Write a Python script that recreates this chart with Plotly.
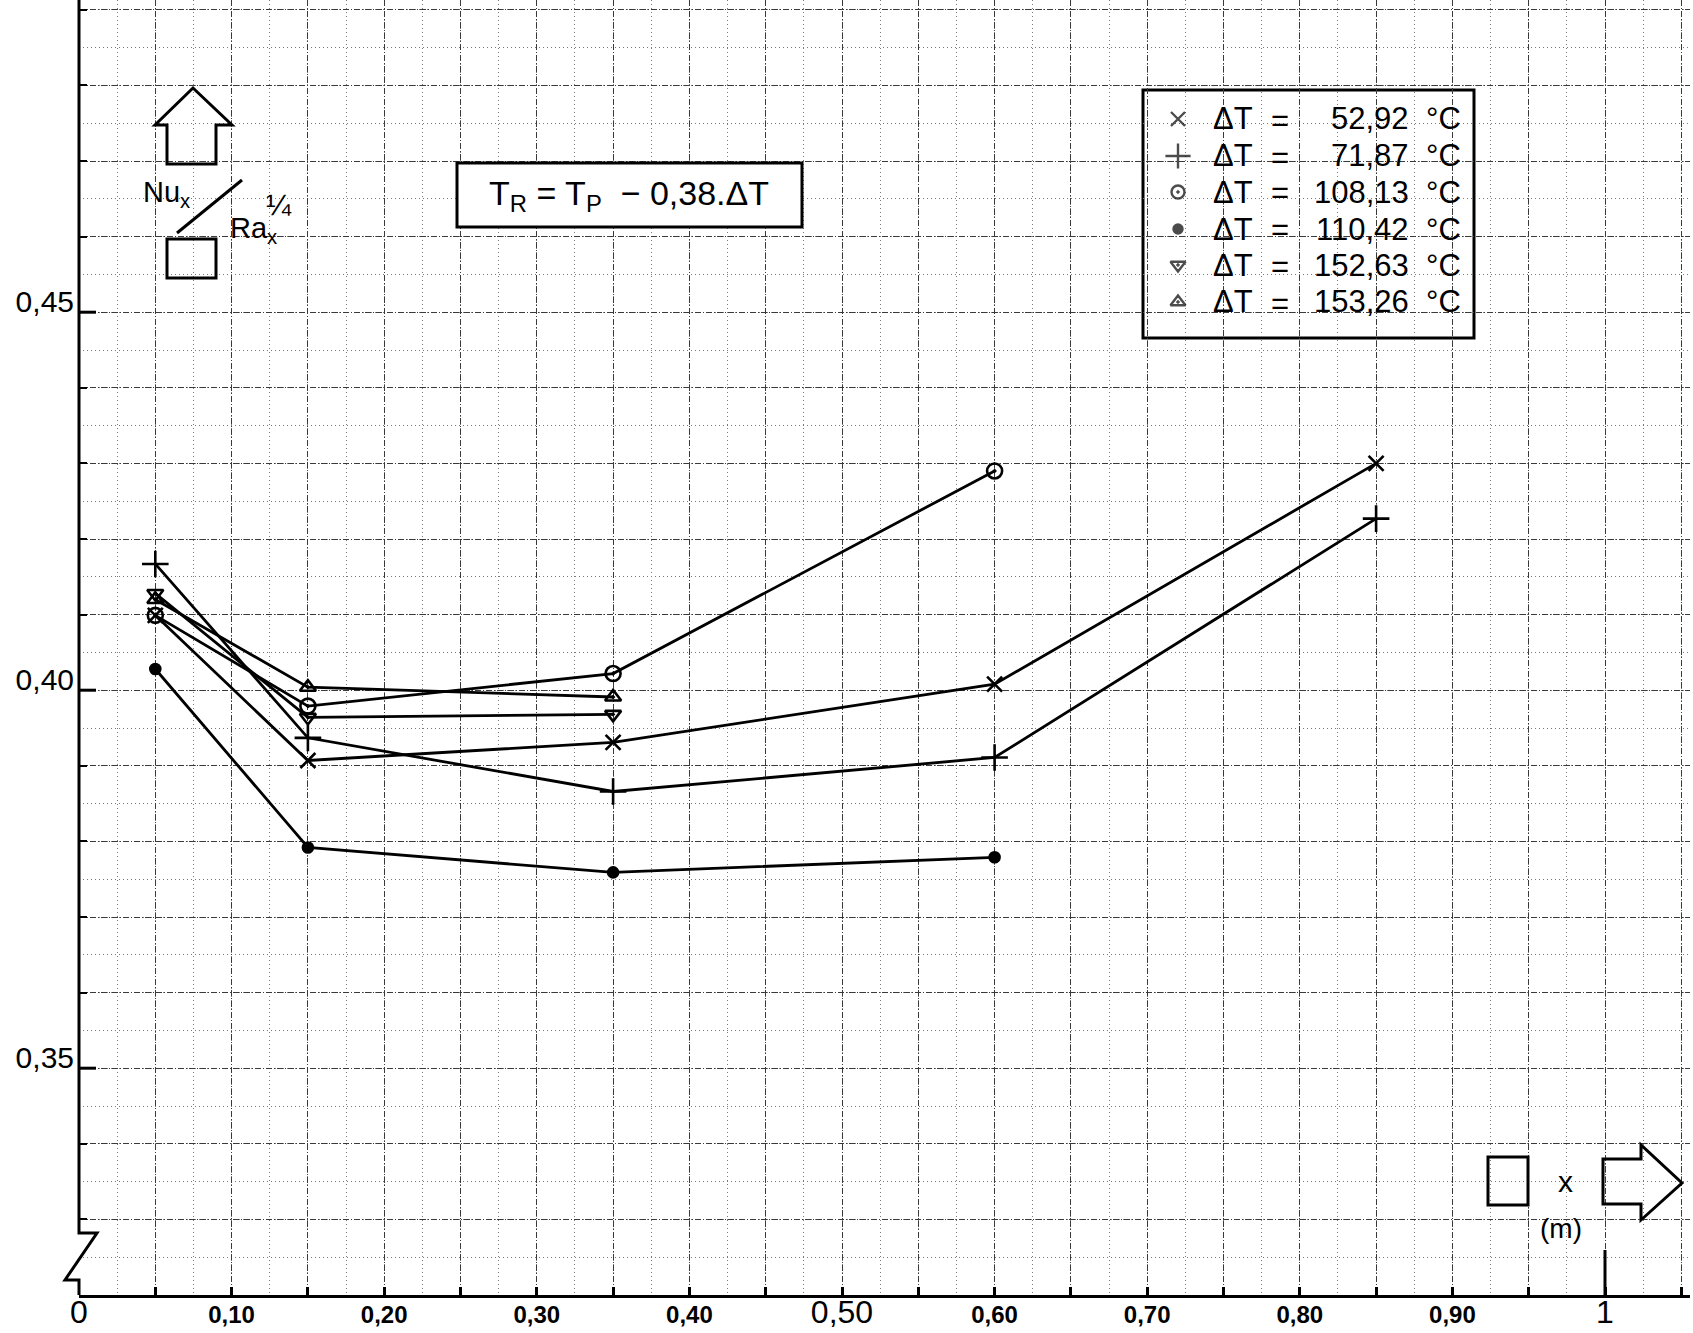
import plotly.graph_objects as go

# ---------------- data ----------------
x_pos = [0.05, 0.15, 0.35, 0.60, 0.85]

dt_52_92 = [0.4099, 0.3907, 0.3931, 0.4008, 0.4300]
dt_71_87 = [0.4167, 0.3937, 0.3866, 0.3911, 0.4227]
dt_108_13 = [0.4099, 0.3979, 0.4022, 0.4290]
dt_110_42 = [0.4028, 0.3792, 0.3759, 0.3779]
dt_152_63 = [0.4128, 0.3964, 0.3968]
dt_153_26 = [0.4120, 0.4004, 0.3991]

series_values = [dt_52_92, dt_71_87, dt_108_13, dt_110_42, dt_152_63, dt_153_26]
series_dt = ["52,92", "71,87", "108,13", "110,42", "152,63", "153,26"]

x_tick_vals = [round(i * 0.05, 2) for i in range(22)]
x_tick_labels = ["0", "", "0,10", "", "0,20", "", "0,30", "", "0,40", "", "0,50", "",
                 "0,60", "", "0,70", "", "0,80", "", "0,90", "", "1", ""]
y_tick_vals = [round(0.32 + i * 0.01, 2) for i in range(18)]
y_tick_labels = {0.35: "0,35", 0.40: "0,40", 0.45: "0,45"}

# ---------------- layout geometry ----------------
W, H = 1693, 1333
L, R, T, B = 79, 3, 0, 38
pw, ph = W - L - R, H - T - B
x_range = [0, pw / 1526]
y_range = [0.32, 0.32 + ph / 7560]


def px(x):
    return (x - L) / pw


def py(y):
    return 1 - (y - T) / ph


styles = [
    dict(symbol="x-thin-open", size=15, lsize=14),
    dict(symbol="cross-thin-open", size=19, lsize=18),
    dict(symbol="circle-open-dot", size=15, lsize=13),
    dict(symbol="circle", size=10, lsize=9),
    dict(symbol="triangle-down-open-dot", size=14, lsize=13),
    dict(symbol="triangle-up-open-dot", size=14, lsize=13),
]

fig = go.Figure()
for vals, st, dt in zip(series_values, styles, series_dt):
    fig.add_trace(go.Scatter(
        x=x_pos[:len(vals)], y=vals, mode="lines+markers", name=f"ΔT = {dt} °C",
        line=dict(color="black", width=2.8),
        marker=dict(symbol=st["symbol"], size=st["size"], color="black",
                    line=dict(color="black", width=2.6)),
        showlegend=False))

# ---- custom legend (pixel overlay axes) ----
leg_rows = [119, 156, 192, 229, 265, 302]
fig.add_trace(go.Scatter(
    x=[1178] * len(series_dt), y=leg_rows, xaxis="x2", yaxis="y2", mode="markers",
    marker=dict(symbol=[s["symbol"] for s in styles], size=[s["lsize"] for s in styles],
                color="black", line=dict(color="black", width=2.4)),
    showlegend=False, hoverinfo="skip"))

# tick texts
ticktext_x = []
for lab in x_tick_labels:
    if lab in ("0", "1", "0,50"):
        ticktext_x.append(f"<span style='font-size:32px'>{lab}</span>")
    elif lab:
        ticktext_x.append(f"<b>{lab}</b>")
    else:
        ticktext_x.append("")
ticktext_y = [y_tick_labels.get(v, "") for v in y_tick_vals]

major_grid = dict(gridcolor="#3a3a3a", griddash="6px,2px,1px,2px", gridwidth=1.2)
minor_grid = dict(gridcolor="#7a7a7a", griddash="1px,3px", gridwidth=1.2)

fig.update_layout(
    width=W, height=H,
    margin=dict(l=L, r=R, t=T, b=B),
    paper_bgcolor="white", plot_bgcolor="white",
    font=dict(family="Liberation Sans, Arial, sans-serif", color="black"),
    xaxis=dict(
        range=x_range, tickmode="array", tickvals=x_tick_vals, ticktext=ticktext_x,
        ticks="inside", ticklen=8, tickwidth=3, tickcolor="black",
        tickfont=dict(size=24, family="Liberation Sans Narrow, Liberation Sans, Arial"),
        ticklabelstandoff=-4,
        showline=True, linecolor="black", linewidth=3, zeroline=False,
        showgrid=True, **major_grid,
        minor=dict(dtick=0.025, tick0=0, showgrid=True, ticks="", **minor_grid),
    ),
    yaxis=dict(
        range=y_range, tickmode="array", tickvals=y_tick_vals, ticktext=ticktext_y,
        ticks="inside", ticklen=8, tickwidth=2, tickcolor="black",
        tickfont=dict(size=30), ticklabelshift=-11, ticklabelstandoff=4,
        showline=False, zeroline=False,
        showgrid=True, **major_grid,
        minor=dict(dtick=0.005, tick0=0.32, showgrid=True, ticks="", **minor_grid),
    ),
    xaxis2=dict(overlaying="x", anchor="y2", range=[L, W - R], visible=False),
    yaxis2=dict(overlaying="y", anchor="x2", range=[H - B, T], visible=False),
    showlegend=False,
)


def path(points, close=False):
    s = "M " + " L ".join(f"{px(x):.5f},{py(y):.5f}" for x, y in points)
    return s + (" Z" if close else "")


shapes = []
blk = dict(color="black", width=3)
# y-axis with break symbol
shapes.append(dict(type="path", xref="paper", yref="paper", line=blk,
                   path=path([(79, 0), (79, 1233), (97, 1233), (65, 1280), (79, 1280), (79, 1295)])))
# long ticks at labelled y values
for v in y_tick_labels:
    shapes.append(dict(type="line", xref="paper", yref="y", x0=px(79), x1=px(96), y0=v, y1=v, line=blk))
# long tick at x = 1
shapes.append(dict(type="line", xref="x", yref="paper", x0=1, x1=1, y0=0, y1=py(1250), line=blk))
# up arrow (y label)
shapes.append(dict(type="path", xref="paper", yref="paper", line=blk,
                   path=path([(193, 88), (232, 125), (216, 125), (216, 164), (167, 164),
                              (167, 125), (155, 125)], close=True)))
shapes.append(dict(type="rect", xref="paper", yref="paper", line=blk,
                   x0=px(167), x1=px(216), y0=py(239), y1=py(278)))
shapes.append(dict(type="line", xref="paper", yref="paper", line=blk,
                   x0=px(177), y0=py(233), x1=px(242), y1=py(180)))
# right arrow (x label)
shapes.append(dict(type="path", xref="paper", yref="paper", line=blk,
                   path=path([(1603, 1159), (1641, 1159), (1641, 1145), (1682, 1183),
                              (1641, 1220), (1641, 1204), (1603, 1204)], close=True)))
shapes.append(dict(type="rect", xref="paper", yref="paper", line=blk,
                   x0=px(1488), x1=px(1528), y0=py(1157), y1=py(1205)))
# formula box
shapes.append(dict(type="rect", xref="paper", yref="paper", line=blk, fillcolor="white",
                   layer="above", x0=px(457), x1=px(802), y0=py(163), y1=py(227)))
# legend box
shapes.append(dict(type="rect", xref="paper", yref="paper", line=blk, fillcolor="white",
                   layer="between", x0=px(1143), x1=px(1474), y0=py(90), y1=py(338)))
fig.update_layout(shapes=shapes)

ann = []


def text(x, y, s, size, xanchor="center"):
    ann.append(dict(x=px(x), y=py(y), xref="paper", yref="paper", text=s, showarrow=False,
                    xanchor=xanchor, yanchor="middle", font=dict(size=size, color="black")))


text(141, 194, "Nu<sub>x</sub>", 29, "left")
text(228, 230, "Ra<sub>x</sub>", 29, "left")
text(279, 204, "¼", 30)
text(629, 195, "T<sub>R</sub> = T<sub>P</sub>  − 0,38.ΔT", 34)
text(1565, 1181, "x", 30)
text(1561, 1228, "(m)", 28)
for yy, dt in zip(leg_rows, series_dt):
    text(1211, yy, "ΔT", 31, "left")
    text(1280, yy + 1, "=", 31)
    text(1411, yy, dt, 31, "right")
    text(1424, yy, "°C", 31, "left")
fig.update_layout(annotations=ann)

fig.write_html("out.html", config={"displayModeBar": False},
               post_script="document.body.style.margin='0';")
